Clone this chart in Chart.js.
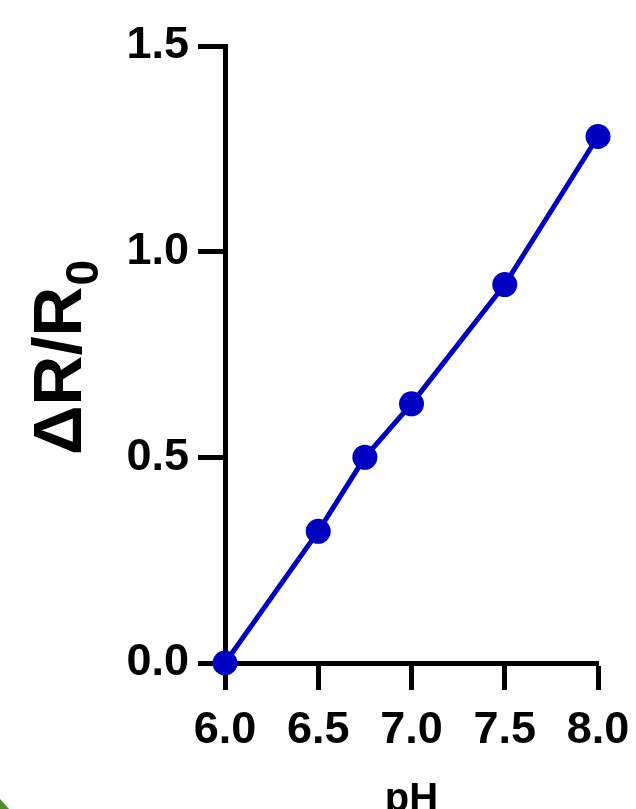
<!DOCTYPE html>
<html>
<head>
<meta charset="utf-8">
<script src="https://cdn.jsdelivr.net/npm/chart.js@4"></script>
<style>
  html, body { margin: 0; padding: 0; background: #fff; }
  #wrap { width: 636px; height: 809px; }
</style>
</head>
<body>
<div id="wrap"><canvas id="myChart" width="636" height="809"></canvas></div>
<script>
// data
const phValues = [6.0, 6.5, 6.75, 7.0, 7.5, 8.0];
const responseValues = [0, 0.32, 0.50, 0.63, 0.92, 1.28];
const xTicks = [6.0, 6.5, 7.0, 7.5, 8.0];
const yTicks = [0.0, 0.5, 1.0, 1.5];

const fontFamily = '"Liberation Sans", Arial, sans-serif';
const blue = '#0000c0';

const points = phValues.map((x, i) => ({ x: x, y: responseValues[i] }));

// axis titles drawn by hand so the subscript can be set properly
const titles = {
    id: 'titles',
    afterDraw(chart) {
        const ctx = chart.ctx;
        ctx.save();
        ctx.fillStyle = '#000';
        // x title
        ctx.font = 'bold 40px ' + fontFamily;
        ctx.textAlign = 'center';
        ctx.textBaseline = 'alphabetic';
        ctx.fillText('pH', (chart.chartArea.left + chart.chartArea.right) / 2, 811);
        // y title, rotated
        ctx.translate(81, 455);
        ctx.rotate(-Math.PI / 2);
        ctx.textAlign = 'left';
        ctx.font = 'bold 69px ' + fontFamily;
        const main = 'ΔR/R';
        ctx.fillText(main, 0, 0);
        const w = ctx.measureText(main).width;
        ctx.font = 'bold 46px ' + fontFamily;
        ctx.fillText('0', w + 1, 17);
        ctx.restore();
        // little green corner at the bottom left
        ctx.save();
        ctx.fillStyle = '#4e8a2c';
        ctx.beginPath();
        ctx.moveTo(0, 799);
        ctx.lineTo(9, 809);
        ctx.lineTo(0, 809);
        ctx.closePath();
        ctx.fill();
        ctx.restore();
    }
};

const config = {
    type: 'line',
    data: {
        datasets: [{
            data: points,
            borderColor: blue,
            backgroundColor: blue,
            borderWidth: 5,
            pointRadius: 12.5,
            pointHoverRadius: 12.5,
            pointBackgroundColor: blue,
            pointBorderWidth: 0,
            tension: 0,
            clip: false
        }]
    },
    options: {
        responsive: false,
        animation: false,
        events: [],
        layout: { padding: { left: 0, right: 38, top: 46, bottom: 0 } },
        plugins: { legend: { display: false }, tooltip: { enabled: false } },
        scales: {
            x: {
                type: 'linear',
                min: 6, max: 8,
                afterBuildTicks: (s) => { s.ticks = xTicks.map(v => ({ value: v })); },
                afterFit: (s) => { s.height = 146; s.paddingLeft = 0; s.paddingRight = 0; },
                grid: { display: true, drawOnChartArea: false, drawTicks: true, tickLength: 27, tickWidth: 5, color: '#000' },
                border: { display: true, color: '#000', width: 5 },
                ticks: {
                    color: '#000',
                    padding: 14,
                    maxRotation: 0,
                    font: { family: fontFamily, size: 45, weight: 'bold' },
                    callback: (v) => Number(v).toFixed(1)
                }
            },
            y: {
                type: 'linear',
                min: 0, max: 1.5,
                afterBuildTicks: (s) => { s.ticks = yTicks.map(v => ({ value: v })); },
                afterFit: (s) => { s.width = 225; s.paddingTop = 0; s.paddingBottom = 0; },
                grid: { display: true, drawOnChartArea: false, drawTicks: true, tickLength: 27, tickWidth: 5, color: '#000' },
                border: { display: true, color: '#000', width: 5 },
                ticks: {
                    color: '#000',
                    padding: 9,
                    font: { family: fontFamily, size: 45, weight: 'bold' },
                    callback: (v) => Number(v).toFixed(1)
                }
            }
        }
    },
    plugins: [titles]
};

const myChart = new Chart(document.getElementById('myChart'), config);
</script>
</body>
</html>
